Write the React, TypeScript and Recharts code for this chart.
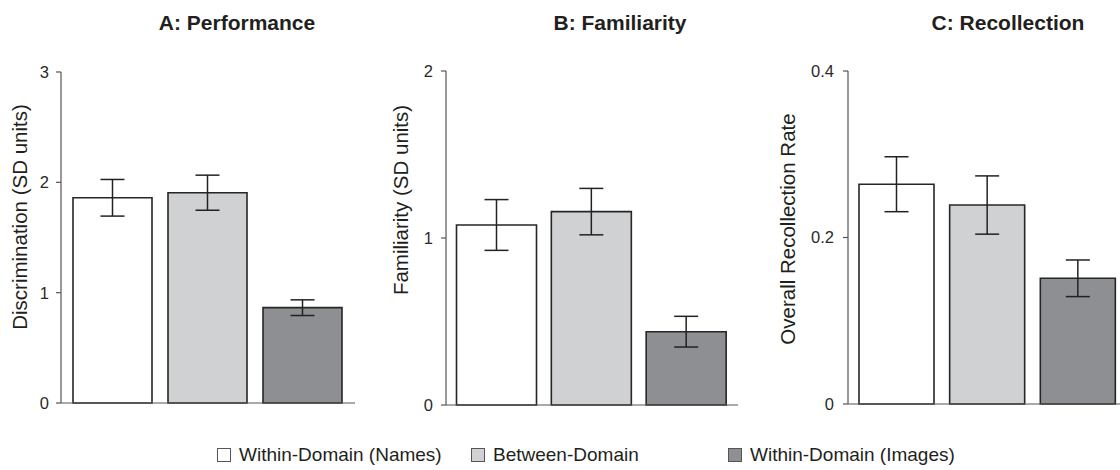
import React from 'react';
import { BarChart, Bar, XAxis, YAxis, ErrorBar, Cell, Label } from 'recharts';

const conditions = ['Within-Domain (Names)', 'Between-Domain', 'Within-Domain (Images)'];
const conditionColors = ['#ffffff', '#d0d1d3', '#8e8f93'];

const performanceMeans = [1.86, 1.906, 0.864];
const performanceErrors = [0.166, 0.159, 0.071];
const performanceTicks = [0, 1, 2, 3];

const familiarityMeans = [1.078, 1.158, 0.439];
const familiarityErrors = [0.152, 0.139, 0.092];
const familiarityTicks = [0, 1, 2];

const recollectionMeans = [0.264, 0.239, 0.151];
const recollectionErrors = [0.033, 0.035, 0.022];
const recollectionTicks = [0, 0.2, 0.4];

const FONT = '"Liberation Sans", Arial, Helvetica, sans-serif';

const build = (means: number[], errors: number[]) =>
  conditions.map((name, i) => ({ name, value: means[i], error: errors[i] }));

type PanelProps = {
  left: number;
  width: number;
  yAxisWidth: number;
  marginRight: number;
  marginTop: number;
  marginBottom: number;
  padLeft: number;
  padRight: number;
  barSize: number;
  means: number[];
  errors: number[];
  ticks: number[];
  title: string;
  titleCenter: number;
  yLabel: string;
  labelX: number;
  labelY: number;
  tickMargin: number;
};

function Panel(p: PanelProps) {
  const data = build(p.means, p.errors);
  const max = p.ticks[p.ticks.length - 1];
  return (
    <>
      <div
        style={{
          position: 'absolute',
          left: p.titleCenter - 150,
          top: 11,
          width: 300,
          textAlign: 'center',
          fontFamily: FONT,
          fontWeight: 'bold',
          fontSize: 21,
          lineHeight: '24px',
          color: '#231f20',
        }}
      >
        {p.title}
      </div>
      <div style={{ position: 'absolute', left: p.left, top: 0 }}>
        <BarChart
          width={p.width}
          height={420}
          data={data}
          margin={{ top: p.marginTop, right: p.marginRight, left: 0, bottom: p.marginBottom }}
        >
          <XAxis
            dataKey="name"
            tick={false}
            tickLine={false}
            height={10}
            axisLine={{ stroke: '#555', strokeWidth: 1.2 }}
            padding={{ left: p.padLeft, right: p.padRight }}
          />
          <YAxis
            type="number"
            width={p.yAxisWidth}
            domain={[0, max]}
            ticks={p.ticks}
            interval={0}
            tickSize={5}
            tickMargin={p.tickMargin}
            axisLine={{ stroke: '#555', strokeWidth: 1.2 }}
            tickLine={{ stroke: '#555', strokeWidth: 1.2 }}
            tick={{ fill: '#2a2a2a', fontSize: 16.5, fontFamily: FONT }}
          >
            <Label
              content={() => (
                <text
                  x={p.labelX}
                  y={p.labelY}
                  transform={`rotate(-90 ${p.labelX} ${p.labelY})`}
                  textAnchor="middle"
                  fontFamily={FONT}
                  fontSize={20.5}
                  fill="#231f20"
                >
                  {p.yLabel}
                </text>
              )}
            />
          </YAxis>
          <Bar
            dataKey="value"
            barSize={p.barSize}
            stroke="#262626"
            strokeWidth={1.6}
            isAnimationActive={false}
          >
            {data.map((d, i) => (
              <Cell key={d.name} fill={conditionColors[i]} />
            ))}
            <ErrorBar dataKey="error" width={12} stroke="#222" strokeWidth={1.5} direction="y" />
          </Bar>
        </BarChart>
      </div>
    </>
  );
}

const legendLefts = [217, 471, 728];

export default function App() {
  return (
    <div
      style={{
        position: 'absolute',
        left: 0,
        top: 0,
        width: 1120,
        height: 470,
        overflow: 'hidden',
        background: '#fff',
        fontFamily: FONT,
      }}
    >
      <Panel
        left={0}
        width={360}
        yAxisWidth={61}
        marginRight={5}
        marginTop={72}
        marginBottom={7}
        padLeft={4}
        padRight={5}
        barSize={79}
        means={performanceMeans}
        errors={performanceErrors}
        ticks={performanceTicks}
        title="A: Performance"
        titleCenter={237}
        yLabel="Discrimination (SD units)"
        labelX={27}
        labelY={217}
        tickMargin={7}
      />
      <Panel
        left={380}
        width={360}
        yAxisWidth={66}
        marginRight={2}
        marginTop={71}
        marginBottom={5}
        padLeft={3.5}
        padRight={4}
        barSize={80}
        means={familiarityMeans}
        errors={familiarityErrors}
        ticks={familiarityTicks}
        title="B: Familiarity"
        titleCenter={620}
        yLabel="Familiarity (SD units)"
        labelX={28}
        labelY={200}
        tickMargin={8}
      />
      <Panel
        left={760}
        width={370}
        yAxisWidth={88}
        marginRight={7}
        marginTop={71}
        marginBottom={6}
        padLeft={3}
        padRight={0}
        barSize={75}
        means={recollectionMeans}
        errors={recollectionErrors}
        ticks={recollectionTicks}
        title="C: Recollection"
        titleCenter={1008}
        yLabel="Overall Recollection Rate"
        labelX={35}
        labelY={229}
        tickMargin={9}
      />
      {conditions.map((c, i) => (
        <div
          key={c}
          style={{
            position: 'absolute',
            left: legendLefts[i],
            top: 444,
            display: 'flex',
            alignItems: 'center',
            whiteSpace: 'nowrap',
            fontSize: 19,
            lineHeight: '22px',
            color: '#231f20',
          }}
        >
          <span
            style={{
              display: 'inline-block',
              width: 12,
              height: 12,
              border: '1.5px solid #555',
              background: conditionColors[i],
              marginRight: 8,
            }}
          />
          {c}
        </div>
      ))}
    </div>
  );
}
